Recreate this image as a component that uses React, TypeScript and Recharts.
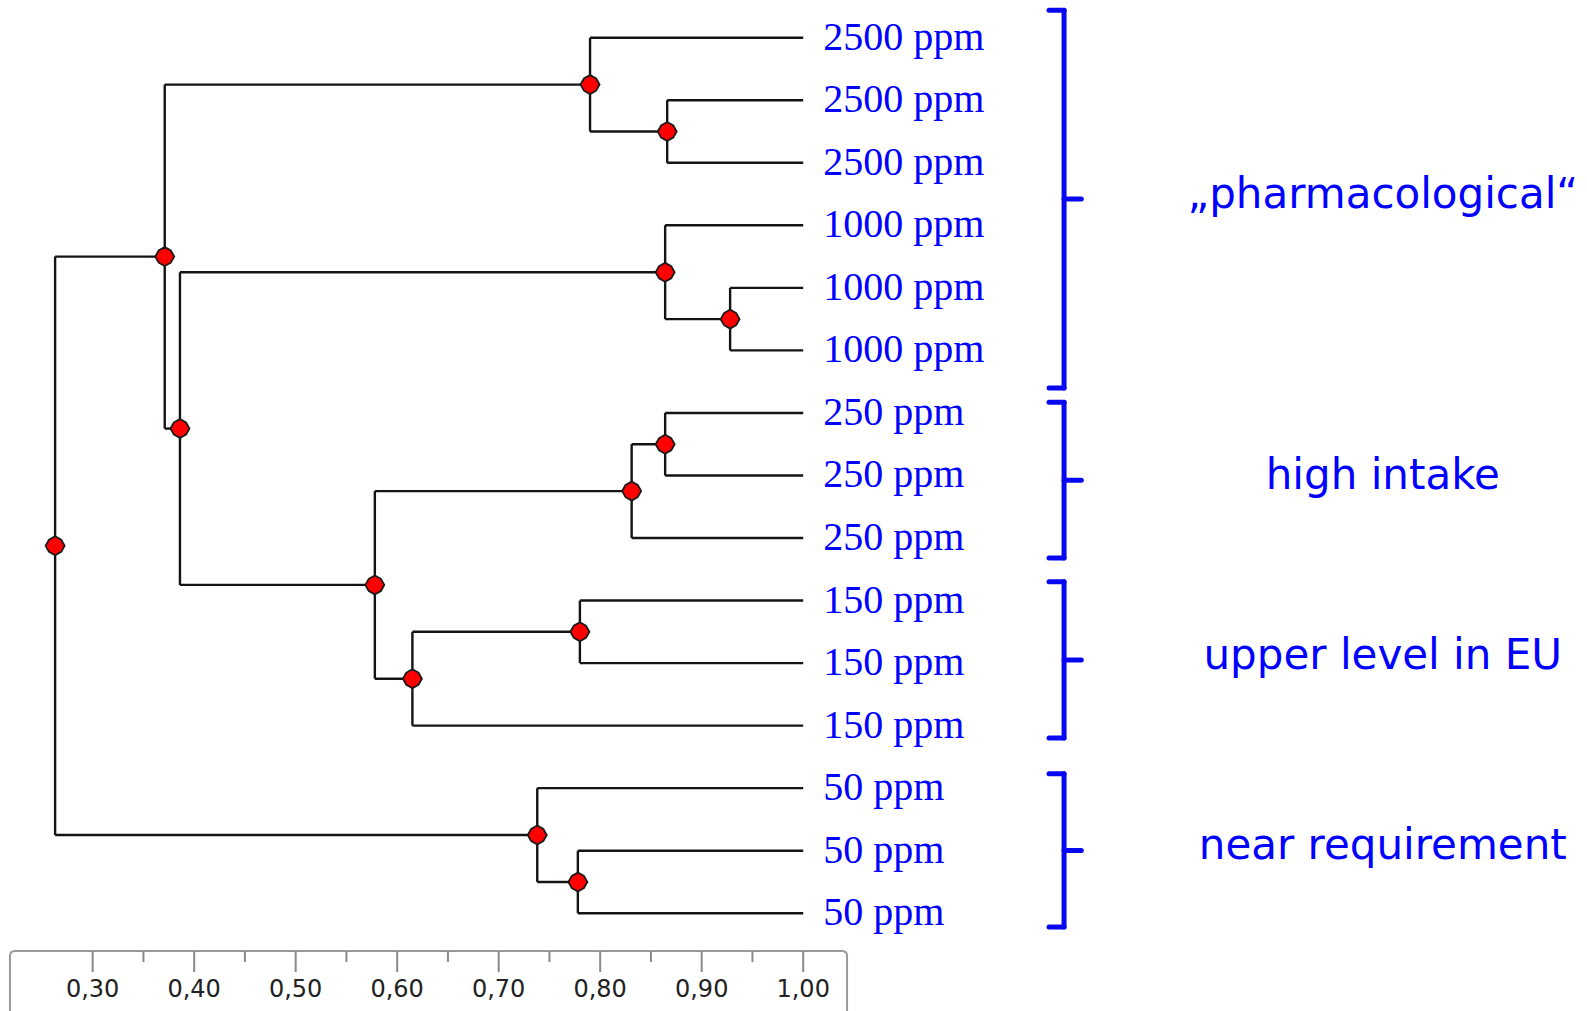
import { ComposedChart, XAxis, YAxis, Scatter, ReferenceLine, ReferenceArea } from 'recharts';

// leaves from top to bottom
const leafLabels = [
  '2500 ppm', '2500 ppm', '2500 ppm',
  '1000 ppm', '1000 ppm', '1000 ppm',
  '250 ppm', '250 ppm', '250 ppm',
  '150 ppm', '150 ppm', '150 ppm',
  '50 ppm', '50 ppm', '50 ppm'
];

// joins: ids 0-14 are the leaves, each join makes a new node 15, 16, ...
const joinPairs = [
  [1, 2], [0, 15], [4, 5], [3, 17], [6, 7], [19, 8], [9, 10],
  [21, 11], [20, 22], [18, 23], [16, 24], [13, 14], [12, 26], [25, 27]
];
const joinSimilarity = [0.866, 0.79, 0.928, 0.864, 0.864, 0.831, 0.78, 0.615, 0.578, 0.386, 0.371, 0.778, 0.738, 0.263];

const groupLabels = ['\u201Epharmacological\u201C', 'high intake', 'upper level in EU', 'near requirement'];
const groupFirstLeaf = [0, 6, 9, 12];
const groupLastLeaf = [5, 8, 11, 14];

const majorTicks = [0.3, 0.4, 0.5, 0.6, 0.7, 0.8, 0.9, 1.0];
const minorTicks = [0.35, 0.45, 0.55, 0.65, 0.75, 0.85, 0.95];

// layout
const X_DOMAIN = [0.2087, 1.7722];
const Y_DOMAIN = [-0.603, 14.604];
const LEAF_X = 1.0;
const BRACKET_X = 1.257;
const HOOK = 0.0148;
const NUB = 0.017;
const BRACKET_TOP_PAD = [0.44, 0.17, 0.3, 0.23];
const BRACKET_BOTTOM_PAD = [0.6, 0.32, 0.2, 0.22];
const GROUP_TEXT_X = 1.571;
const BLUE = '#0000ff';
const LINE = '#141414';

const nodeX: number[] = leafLabels.map(() => LEAF_X);
const nodeY: number[] = leafLabels.map((_, i) => i);
joinPairs.forEach(([a, b], k) => {
  nodeX.push(joinSimilarity[k]);
  nodeY.push((nodeY[a] + nodeY[b]) / 2);
});

type Seg = [{ x: number; y: number }, { x: number; y: number }];
const treeSegments: Seg[] = [];
joinPairs.forEach(([a, b], k) => {
  const s = joinSimilarity[k];
  treeSegments.push([{ x: s, y: nodeY[a] }, { x: s, y: nodeY[b] }]);
  treeSegments.push([{ x: s, y: nodeY[a] }, { x: nodeX[a], y: nodeY[a] }]);
  treeSegments.push([{ x: s, y: nodeY[b] }, { x: nodeX[b], y: nodeY[b] }]);
});

const joinDots = joinPairs.map((_, k) => ({ x: nodeX[15 + k], y: nodeY[15 + k] }));
const leafPoints = leafLabels.map((label, i) => ({ x: LEAF_X, y: i, label }));

const bracketSegments: Seg[] = [];
const groupPoints = groupLabels.map((label, i) => {
  const top = groupFirstLeaf[i] - BRACKET_TOP_PAD[i];
  const bottom = groupLastLeaf[i] + BRACKET_BOTTOM_PAD[i];
  const mid = (top + bottom) / 2;
  bracketSegments.push([{ x: BRACKET_X, y: top }, { x: BRACKET_X, y: bottom }]);
  bracketSegments.push([{ x: BRACKET_X - HOOK, y: top }, { x: BRACKET_X, y: top }]);
  bracketSegments.push([{ x: BRACKET_X - HOOK, y: bottom }, { x: BRACKET_X, y: bottom }]);
  bracketSegments.push([{ x: BRACKET_X, y: mid }, { x: BRACKET_X + NUB, y: mid }]);
  return { x: GROUP_TEXT_X, y: mid, label };
});

const isMajor = (v: number) => Math.abs(v * 10 - Math.round(v * 10)) < 1e-6;

const AxisTick = (props: any) => {
  const { x, y, payload } = props;
  const v = payload.value as number;
  const major = isMajor(v);
  return (
    <g>
      <line x1={x} x2={x} y1={y} y2={y + (major ? 21 : 11)} stroke="#8a8a8a" strokeWidth={2} />
      {major && (
        <text x={x} y={y + 46} textAnchor="middle" fontFamily="DejaVu Sans" fontSize={24} fill="#222">
          {v.toFixed(2).replace('.', ',')}
        </text>
      )}
    </g>
  );
};

const AxisBox = (props: any) => {
  const { x, y, width, height } = props;
  const r = 5;
  const d = `M${x},${y + height} L${x},${y + r} Q${x},${y} ${x + r},${y} L${x + width - r},${y} Q${x + width},${y} ${x + width},${y + r} L${x + width},${y + height}`;
  return <path d={d} fill="none" stroke="#9a9a9a" strokeWidth={2} />;
};

const JoinDot = (props: any) => {
  const { cx, cy } = props;
  const pts = [0, 1, 2, 3, 4, 5, 6, 7]
    .map((i) => {
      const a = (i * Math.PI) / 4;
      const r = i % 2 === 0 ? 9.5 : 8.6;
      return `${cx + r * Math.cos(a)},${cy + r * Math.sin(a)}`;
    })
    .join(' ');
  return <polygon points={pts} fill="#ff0000" stroke="#1a1a1a" strokeWidth={1.8} />;
};

const LeafLabel = (props: any) => (
  <text x={props.cx + 20} y={props.cy + 12} fontFamily="Liberation Serif" fontSize={40} fill={BLUE}>
    {props.payload.label}
  </text>
);

const GroupLabel = (props: any) => (
  <text x={props.cx} y={props.cy + 9} textAnchor="middle" fontFamily="DejaVu Sans" fontSize={42} fill={BLUE}>
    {props.payload.label}
  </text>
);

export default function App() {
  return (
    <div style={{ position: 'absolute', left: 0, top: 0, width: 1587, height: 1011, background: '#fff', overflow: 'hidden' }}>
      <ComposedChart width={1587} height={1011} margin={{ top: 0, right: 0, bottom: 0, left: 0 }}>
        <XAxis
          type="number"
          dataKey="x"
          domain={X_DOMAIN}
          ticks={[...majorTicks, ...minorTicks].sort((a, b) => a - b)}
          interval={0}
          height={60}
          axisLine={false}
          tickLine={false}
          tickSize={0}
          tickMargin={0}
          tick={<AxisTick />}
          allowDataOverflow
        />
        <YAxis type="number" dataKey="y" domain={Y_DOMAIN} reversed hide allowDataOverflow />
        <ReferenceArea
          x1={0.2185}
          x2={1.0432}
          y1={Y_DOMAIN[1]}
          y2={Y_DOMAIN[1] + 1.3}
          ifOverflow="visible"
          shape={<AxisBox />}
        />
        {treeSegments.map((seg, i) => (
          <ReferenceLine key={'t' + i} segment={seg} stroke={LINE} strokeWidth={2.4} ifOverflow="visible" />
        ))}
        {bracketSegments.map((seg, i) => (
          <ReferenceLine key={'b' + i} segment={seg} stroke="#0808f0" strokeWidth={5} strokeLinecap="round" ifOverflow="visible" />
        ))}
        <Scatter data={joinDots} shape={<JoinDot />} isAnimationActive={false} />
        <Scatter data={leafPoints} shape={<LeafLabel />} isAnimationActive={false} />
        <Scatter data={groupPoints} shape={<GroupLabel />} isAnimationActive={false} />
      </ComposedChart>
    </div>
  );
}
